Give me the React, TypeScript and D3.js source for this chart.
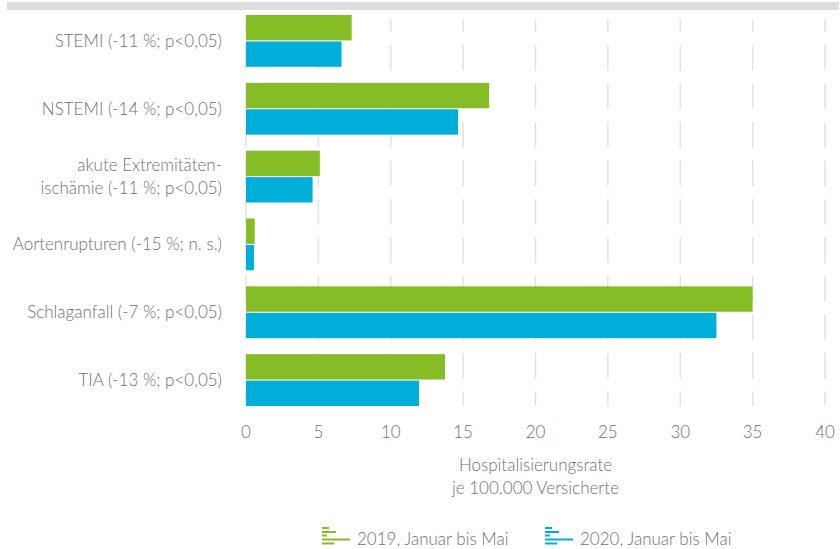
import React from 'react';
import * as d3 from 'd3';

const categories = [
    ['STEMI (-11 %; p<0,05)'],
    ['NSTEMI (-14 %; p<0,05)'],
    ['akute Extremitäten-', 'ischämie (-11 %; p<0,05)'],
    ['Aortenrupturen (-15 %; n. s.)'],
    ['Schlaganfall (-7 %; p<0,05)'],
    ['TIA (-13 %; p<0,05)'],
];
const values2019 = [7.3, 16.8, 5.1, 0.6, 35.0, 13.75];
const values2020 = [6.6, 14.65, 4.6, 0.55, 32.5, 11.95];
const seriesNames = ['2019, Januar bis Mai', '2020, Januar bis Mai'];
const seriesColors = ['#86bc25', '#00afd9'];
const xTicks = [0, 5, 10, 15, 20, 25, 30, 35, 40];
const axisTitle = ['Hospitalisierungsrate', 'je 100.000 Versicherte'];

const W = 840;
const H = 549;
const FONT = 'Lato, "Open Sans", sans-serif';
const TEXT = '#707070';
const FS = 17;

export default function App() {
    const x = d3.scaleLinear().domain([0, 40]).range([246, 825]);
    const y = d3.scaleBand<number>()
        .domain(d3.range(categories.length))
        .range([7, 414])
        .paddingInner(0.236)
        .paddingOuter(0.118);
    const sub = d3.scaleBand<number>()
        .domain([0, 1])
        .range([0, y.bandwidth()])
        .paddingInner(0.04);
    const series = [values2019, values2020];

    // legend icon: little stacked bars
    const iconRows = [
        { dy: 0, w: 7 },
        { dy: 4, w: 14 },
        { dy: 7.5, w: 5 },
        { dy: 11.5, w: 28 },
        { dy: 15.5, w: 12 },
    ];
    const legendItems = [
        { x: 322, name: seriesNames[0], color: seriesColors[0] },
        { x: 545, name: seriesNames[1], color: seriesColors[1] },
    ];

    return (
        <svg width={W} height={H} style={{ position: 'absolute', left: 0, top: 0, fontFamily: FONT, fontWeight: 300 }}>
            <rect x={0} y={0} width={W} height={H} fill="#fff" />
            {/* top band */}
            <rect x={7} y={2} width={832} height={8} fill="#dedede" />

            {/* dashed grid */}
            {xTicks.map(t => (
                <line key={t} x1={x(t)} x2={x(t)} y1={19} y2={406}
                    stroke="#e2e2e2" strokeWidth={1.5}
                    strokeDasharray="25.5 13" strokeDashoffset={12.5} />
            ))}

            {/* bars */}
            {series.map((vals, s) => vals.map((v, i) => (
                <rect key={`${s}-${i}`}
                    x={x(0)}
                    y={(y(i) as number) + (sub(s) as number)}
                    width={x(v) - x(0)}
                    height={sub.bandwidth()}
                    fill={seriesColors[s]} />
            )))}

            {/* category labels */}
            {categories.map((lines, i) => {
                const cy = (y(i) as number) + y.bandwidth() / 2;
                const lh = 23;
                const top = cy - ((lines.length - 1) * lh) / 2;
                return (
                    <text key={i} x={222} textAnchor="end" fontSize={FS} fill={TEXT}>
                        {lines.map((l, k) => (
                            <tspan key={k} x={222} y={top + k * lh} dy="0.35em">{l}</tspan>
                        ))}
                    </text>
                );
            })}

            {/* x tick labels */}
            {xTicks.map(t => (
                <text key={t} x={x(t)} y={438} textAnchor="middle" fontSize={FS} fill={TEXT}>{t}</text>
            ))}

            {/* axis title */}
            {axisTitle.map((l, k) => (
                <text key={k} x={(x(0) + x(40)) / 2} y={471 + k * 23} textAnchor="middle" fontSize={FS} fill={TEXT}>{l}</text>
            ))}

            {/* legend */}
            {legendItems.map(item => (
                <g key={item.name} transform={`translate(${item.x},527)`}>
                    {iconRows.map((r, k) => (
                        <rect key={k} x={0} y={r.dy} width={r.w} height={2} fill={item.color} />
                    ))}
                    <text x={35} y={18} fontSize={FS} fill={TEXT}>{item.name}</text>
                </g>
            ))}
        </svg>
    );
}
